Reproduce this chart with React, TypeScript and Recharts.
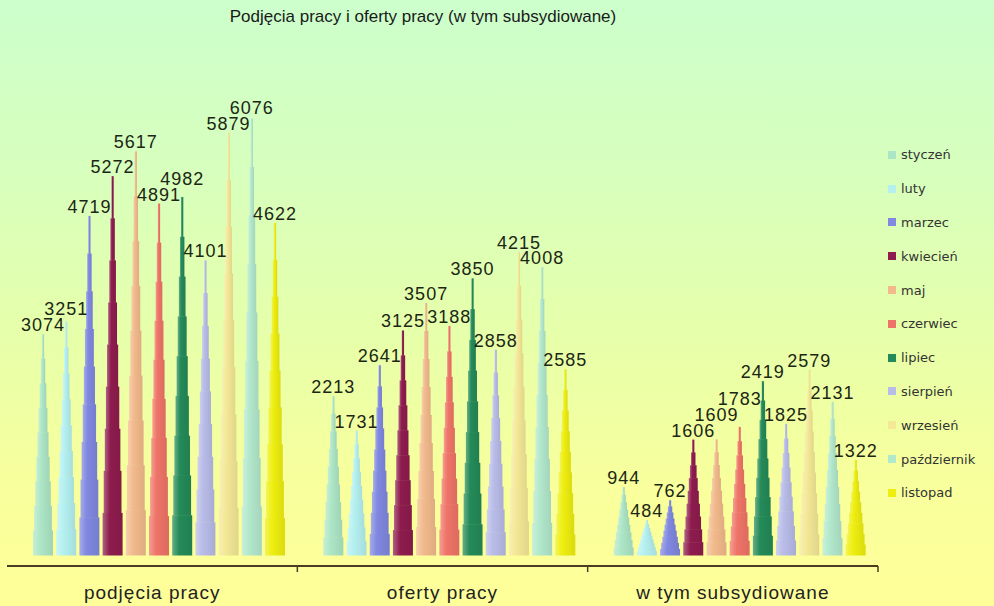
import React from 'react';
import { BarChart, Bar, XAxis, YAxis, LabelList } from 'recharts';

const categories = ['podjęcia pracy', 'oferty pracy', 'w tym subsydiowane'];
const months = ['styczeń', 'luty', 'marzec', 'kwiecień', 'maj', 'czerwiec', 'lipiec', 'sierpień', 'wrzesień', 'październik', 'listopad'];

const styczen = [3074, 2213, 944];
const luty = [3251, 1731, 484];
const marzec = [4719, 2641, 762];
const kwiecien = [5272, 3125, 1606];
const maj = [5617, 3507, 1609];
const czerwiec = [4891, 3188, 1783];
const lipiec = [4982, 3850, 2419];
const sierpien = [4101, 2858, 1825];
const wrzesien = [5879, 4215, 2579];
const pazdziernik = [6076, 4008, 2131];
const listopad = [4622, 2585, 1322];

const seriesValues = [styczen, luty, marzec, kwiecien, maj, czerwiec, lipiec, sierpien, wrzesien, pazdziernik, listopad];
const colors = ['#ade6c6', '#b4f0f0', '#8088e0', '#8e1c4e', '#f2ba8c', '#ef7468', '#248a58', '#b8bce8', '#f4e896', '#b2e8cc', '#eeee10'];

const data = categories.map((name, i) => {
  const row: Record<string, string | number> = { name };
  months.forEach((m, k) => { row[m] = seriesValues[k][i]; });
  return row;
});

const W = 994;
const H = 606;
const MARGIN = { top: 52, right: 116, left: 7, bottom: 0 };
const BAND = (W - MARGIN.left - MARGIN.right) / categories.length;
const DEPTH = 7;
const FONT = '"Liberation Sans", Arial, sans-serif';
const LABEL_GAP = 16;

function mix(hex: string, target: number, t: number) {
  const n = parseInt(hex.slice(1), 16);
  const ch = [(n >> 16) & 255, (n >> 8) & 255, n & 255].map((c) => Math.round(c + (target - c) * t));
  return '#' + ch.map((c) => c.toString(16).padStart(2, '0')).join('');
}

const Cone = (props: any) => {
  const { x, y, width, height, fill, index, dataKey } = props;
  if (!height || height <= 0) return null;
  const id = `cone-${String(dataKey).replace(/[^a-z]/gi, '')}-${index}`;
  const cx = x + width / 2 + DEPTH;
  const base = y + height;
  const N = 9;
  const rects = [];
  for (let i = 0; i < N; i++) {
    const w = Math.max(2, width * (1 - i / N));
    const y0 = base - (height * (i + 1)) / N;
    rects.push(<rect key={i} x={cx - w / 2} y={y0} width={w} height={height / N + 0.5} fill={`url(#${id})`} />);
  }
  return (
    <g>
      <defs>
        <linearGradient id={id} x1="0" y1="0" x2="1" y2="0">
          <stop offset="0%" stopColor={mix(fill, 255, 0.3)} />
          <stop offset="35%" stopColor={fill} />
          <stop offset="100%" stopColor={mix(fill, 0, 0.08)} />
        </linearGradient>
      </defs>
      {rects}
    </g>
  );
};

// label for series k: lifted when it would land on the previous series' label
const makeLabel = (k: number) => (props: any) => {
  const { x, y, width, height, value, index } = props;
  let dy = 0;
  if (height > 0) {
    const p = height / Number(value);
    let pos = seriesValues[0][index] * p;
    for (let j = 1; j <= k; j++) {
      const nat = seriesValues[j][index] * p;
      pos = nat >= pos - 8 && nat < pos + LABEL_GAP ? pos + LABEL_GAP : nat;
    }
    dy = -(pos - Number(value) * p);
  }
  return (
    <text x={x + width / 2 + DEPTH} y={y - 3 + dy} textAnchor="middle" fontSize={18} letterSpacing={1} fill="#1c2614" fontFamily={FONT}>
      {value}
    </text>
  );
};

const CategoryTick = (props: any) => {
  const { x, y, payload } = props;
  return (
    <g>
      <line x1={x + BAND / 2} y1={y - 8} x2={x + BAND / 2} y2={y - 2} stroke="#4a3c22" strokeWidth={1.5} />
      <text x={x} y={y + 25} textAnchor="middle" fontSize={19} letterSpacing={1} fill="#222" fontFamily={FONT}>
        {payload.value}
      </text>
    </g>
  );
};

export default function App() {
  return (
    <div
      style={{
        position: 'fixed',
        left: 0,
        top: 0,
        width: W,
        height: H,
        background: 'linear-gradient(to bottom, #ccffcc 0%, #d8ffbc 30%, #e6ffaa 55%, #f8ff9c 80%, #ffff99 100%)',
        fontFamily: FONT,
      }}
    >
      <div style={{ position: 'absolute', left: 0, width: 846, top: 7, textAlign: 'center', fontSize: 17, color: '#1a1a1a' }}>
        Podjęcia pracy i oferty pracy (w tym subsydiowane)
      </div>
      <BarChart width={W} height={H} data={data} margin={MARGIN} barSize={20} barGap={3.2}>
        <XAxis
          dataKey="name"
          interval={0}
          height={40}
          tickLine={false}
          axisLine={{ stroke: '#4a3c22', strokeWidth: 2 }}
          tick={<CategoryTick />}
        />
        <YAxis hide domain={[-153, 7000]} allowDataOverflow />
        {months.map((m, k) => {
          const Label = makeLabel(k);
          return (
            <Bar key={m} dataKey={m} fill={colors[k]} shape={<Cone />} isAnimationActive={false}>
              <LabelList dataKey={m} content={<Label />} />
            </Bar>
          );
        })}
      </BarChart>
      <div style={{ position: 'absolute', left: 888, top: 138 }}>
        {months.map((m, k) => (
          <div key={m} style={{ display: 'flex', alignItems: 'center', height: 33.8, fontFamily: '"DejaVu Sans", sans-serif', fontSize: 13, color: '#333' }}>
            <span style={{ display: 'inline-block', width: 8, height: 8, background: colors[k], marginRight: 5 }} />
            <span>{m}</span>
          </div>
        ))}
      </div>
    </div>
  );
}
